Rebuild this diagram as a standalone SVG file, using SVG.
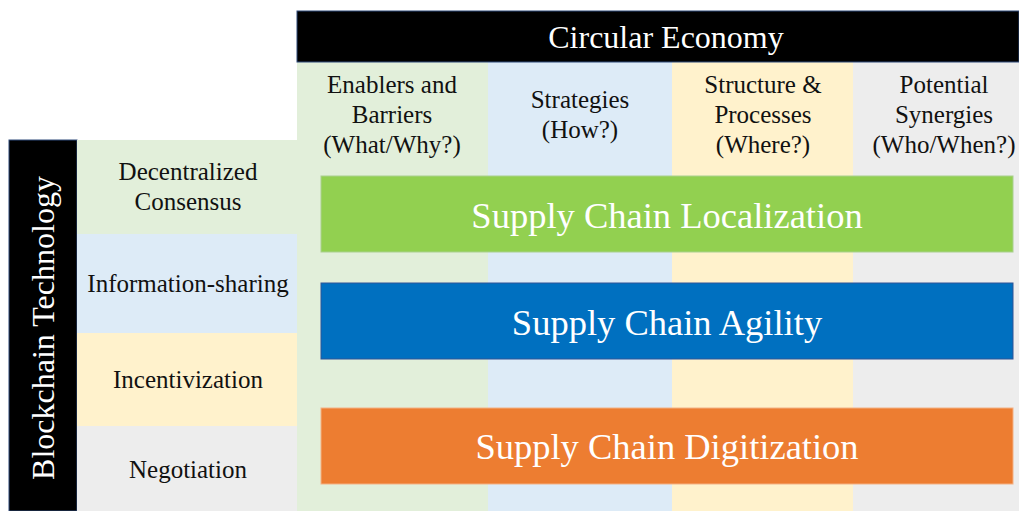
<svg xmlns="http://www.w3.org/2000/svg" width="1019" height="511" viewBox="0 0 1019 511" font-family="'Liberation Serif', 'DejaVu Serif', serif">
<style>
text{text-anchor:middle}
.lbl{font-size:25px;fill:#111}
.bar{font-size:36.5px;fill:#fff}
.hdr{font-size:32px;fill:#fff}
</style>
<rect width="1019" height="511" fill="#fff"/>
<g id="columns">
<rect x="297" y="62" width="191" height="449" fill="#E2EFDA"/>
<rect x="488" y="62" width="184" height="449" fill="#DDEBF7"/>
<rect x="672" y="62" width="181" height="449" fill="#FFF2CC"/>
<rect x="853" y="62" width="166" height="449" fill="#EDEDED"/>
</g>
<g id="circular-economy">
<rect x="297" y="11" width="722" height="51" fill="#000" stroke="#2F4A7A" stroke-width="1"/>
<text class="hdr" x="666" y="48">Circular Economy</text>
</g>
<g id="col-enablers"><text class="lbl" x="392" y="93">Enablers and</text><text class="lbl" x="392" y="123">Barriers</text><text class="lbl" x="392" y="153">(What/Why?)</text></g>
<g id="col-strategies"><text class="lbl" x="580" y="108">Strategies</text><text class="lbl" x="580" y="138">(How?)</text></g>
<g id="col-structure"><text class="lbl" x="763" y="93">Structure &amp;</text><text class="lbl" x="763" y="123">Processes</text><text class="lbl" x="763" y="153">(Where?)</text></g>
<g id="col-synergies"><text class="lbl" x="944" y="93">Potential</text><text class="lbl" x="944" y="123">Synergies</text><text class="lbl" x="944" y="153">(Who/When?)</text></g>
<g id="blockchain-technology">
<rect x="9" y="140" width="68" height="371" fill="#000" stroke="#2F4A7A" stroke-width="1"/>
<text class="hdr" transform="translate(54,328) rotate(-90)">Blockchain Technology</text>
</g>
<g id="row-consensus"><rect x="77" y="140" width="220" height="94" fill="#E2EFDA"/><text class="lbl" x="188" y="180">Decentralized</text><text class="lbl" x="188" y="210">Consensus</text></g>
<g id="row-info"><rect x="77" y="234" width="220" height="99" fill="#DDEBF7"/><text class="lbl" x="188" y="292">Information-sharing</text></g>
<g id="row-incent"><rect x="77" y="333" width="220" height="93" fill="#FFF2CC"/><text class="lbl" x="188" y="388">Incentivization</text></g>
<g id="row-negot"><rect x="77" y="426" width="220" height="85" fill="#EDEDED"/><text class="lbl" x="188" y="478">Negotiation</text></g>
<g id="bar-localization"><rect x="321" y="176" width="692" height="76" fill="#92D050" stroke="#A9D08E" stroke-width="1"/><text class="bar" x="667" y="228">Supply Chain Localization</text></g>
<g id="bar-agility"><rect x="321" y="283" width="692" height="76" fill="#0070C0" stroke="#2F5597" stroke-width="1"/><text class="bar" x="667" y="335">Supply Chain Agility</text></g>
<g id="bar-digitization"><rect x="321" y="408" width="692" height="76" fill="#ED7D31" stroke="#F4B183" stroke-width="1"/><text class="bar" x="667" y="459">Supply Chain Digitization</text></g>
<g id="connectors"></g>
</svg>
